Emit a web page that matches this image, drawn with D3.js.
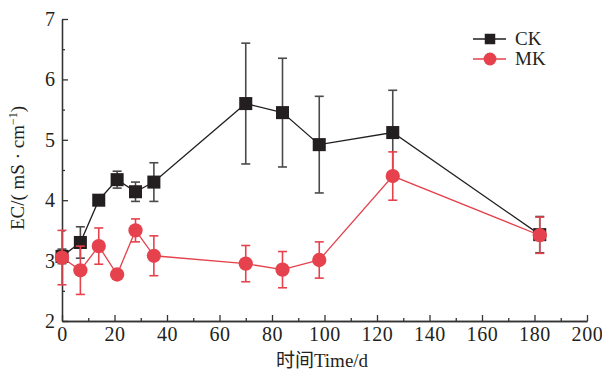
<!DOCTYPE html>
<html>
<head>
<meta charset="utf-8">
<script src="https://cdn.jsdelivr.net/npm/d3@7"></script>
<style>
  body { margin: 0; background: #fff; }
  svg text { font-family: "Liberation Serif", "DejaVu Serif", serif; fill: #231f20; }
</style>
</head>
<body>
<div id="chart"></div>
<script>
// days of sampling
var days = [0, 7, 14, 21, 28, 35, 70, 84, 98, 126, 182];
var ckMean = [3.07, 3.30, 4.00, 4.34, 4.14, 4.30, 5.60, 5.45, 4.92, 5.12, 3.43];
var ckErr  = [0.12, 0.26, 0.05, 0.14, 0.16, 0.32, 1.00, 0.90, 0.80, 0.70, 0.30];
var mkMean = [3.05, 2.84, 3.24, 2.77, 3.50, 3.08, 2.95, 2.85, 3.01, 4.40, 3.42];
var mkErr  = [0.45, 0.40, 0.30, 0.04, 0.19, 0.33, 0.30, 0.30, 0.30, 0.40, 0.30];
var xTicks = [0, 20, 40, 60, 80, 100, 120, 140, 160, 180, 200];
var yTicks = [2, 3, 4, 5, 6, 7];

var margin = {top: 19, right: 15, bottom: 51, left: 62},
    width = 602 - margin.left - margin.right,
    height = 372 - margin.top - margin.bottom;

var svg = d3.select("#chart")
    .append("svg")
    .attr("width", 602)
    .attr("height", 372)

var g = svg.append("g")
    .attr("transform", "translate(" + margin.left + "," + margin.top + ")")

var x = d3.scaleLinear().domain([0, 200]).range([0, 525]),
    y = d3.scaleLinear().domain([2, 7]).range([height, 0])

var black = "#231f20", red = "#e5424d";

// axes, ticks pointing inward
var xAxis = g.append("g")
    .attr("transform", "translate(0," + height + ")")
    .call(d3.axisBottom(x).tickValues(xTicks).tickFormat(d3.format("d")).tickSizeInner(-6).tickSizeOuter(0).tickPadding(6))
var xMinor = g.append("g")
    .attr("transform", "translate(0," + height + ")")
    .call(d3.axisBottom(x).tickValues(d3.range(10, 200, 20)).tickSizeInner(-3).tickSizeOuter(0).tickFormat(""))

var yAxis = g.append("g")
    .call(d3.axisLeft(y).tickValues(yTicks).tickFormat(d3.format("d")).tickSizeInner(-6).tickSizeOuter(0).tickPadding(7))
var yMinor = g.append("g")
    .call(d3.axisLeft(y).tickValues(d3.range(2.5, 7, 1)).tickSizeInner(-3).tickSizeOuter(0).tickFormat(""))

g.selectAll(".domain, .tick line").attr("stroke", "#333").attr("stroke-width", 1.3)
xAxis.selectAll("text").style("font-size", "20px").style("letter-spacing", "0.6px").attr("fill", black)
yAxis.selectAll("text").style("font-size", "20px").attr("fill", black)

// axis titles
svg.append("text")
    .attr("x", 322)
    .attr("y", 367)
    .attr("text-anchor", "middle")
    .style("font-size", "19px")
    .html('<tspan style="font-family:\'Noto Sans CJK SC\'">时间</tspan>Time/d')

svg.append("text")
    .attr("transform", "translate(24,168) rotate(-90)")
    .attr("text-anchor", "middle")
    .style("font-size", "19px")
    .html('EC/( mS · cm<tspan dy="-7" font-size="12px">−1</tspan><tspan dy="7">)</tspan>')

function drawSeries(mean, err, color, barColor, shape) {
    var data = days.map(function (d, i) { return {day: d, v: mean[i], e: err[i]}; });

    var line = d3.line()
        .x(function (d) { return x(d.day); })
        .y(function (d) { return y(d.v); });

    g.append("path")
        .datum(data)
        .attr("fill", "none")
        .attr("stroke", color)
        .attr("stroke-width", 1.3)
        .attr("d", line)

    var bars = g.append("g").selectAll("g")
        .data(data)
        .enter().append("g")
        .attr("stroke", barColor)
        .attr("stroke-width", 1.6)

    bars.append("line")
        .attr("x1", function (d) { return x(d.day); })
        .attr("x2", function (d) { return x(d.day); })
        .attr("y1", function (d) { return y(d.v - d.e); })
        .attr("y2", function (d) { return y(d.v + d.e); })
    bars.append("line")
        .attr("x1", function (d) { return x(d.day) - 4.5; })
        .attr("x2", function (d) { return x(d.day) + 4.5; })
        .attr("y1", function (d) { return y(d.v + d.e); })
        .attr("y2", function (d) { return y(d.v + d.e); })
    bars.append("line")
        .attr("x1", function (d) { return x(d.day) - 4.5; })
        .attr("x2", function (d) { return x(d.day) + 4.5; })
        .attr("y1", function (d) { return y(d.v - d.e); })
        .attr("y2", function (d) { return y(d.v - d.e); })

    g.append("g").selectAll("path")
        .data(data)
        .enter().append("path")
        .attr("d", d3.symbol().type(shape).size(shape === d3.symbolSquare ? 170 : 160))
        .attr("transform", function (d) { return "translate(" + x(d.day) + "," + y(d.v) + ")"; })
        .attr("fill", color)
}

drawSeries(ckMean, ckErr, black, "#4a4a4a", d3.symbolSquare)
drawSeries(mkMean, mkErr, red, red, d3.symbolCircle)

// legend
var legend = svg.append("g")
var items = [{name: "CK", color: black, shape: d3.symbolSquare, size: 110},
             {name: "MK", color: red, shape: d3.symbolCircle, size: 130}]
items.forEach(function (it, i) {
    var ly = 39 + i * 20;
    legend.append("line")
        .attr("x1", 473).attr("x2", 506)
        .attr("y1", ly).attr("y2", ly)
        .attr("stroke", it.color).attr("stroke-width", 1.3)
    legend.append("path")
        .attr("d", d3.symbol().type(it.shape).size(it.size))
        .attr("transform", "translate(490," + ly + ")")
        .attr("fill", it.color)
    legend.append("text")
        .attr("x", 515).attr("y", ly + 6)
        .style("font-size", "19px")
        .text(it.name)
})
</script>
</body>
</html>
